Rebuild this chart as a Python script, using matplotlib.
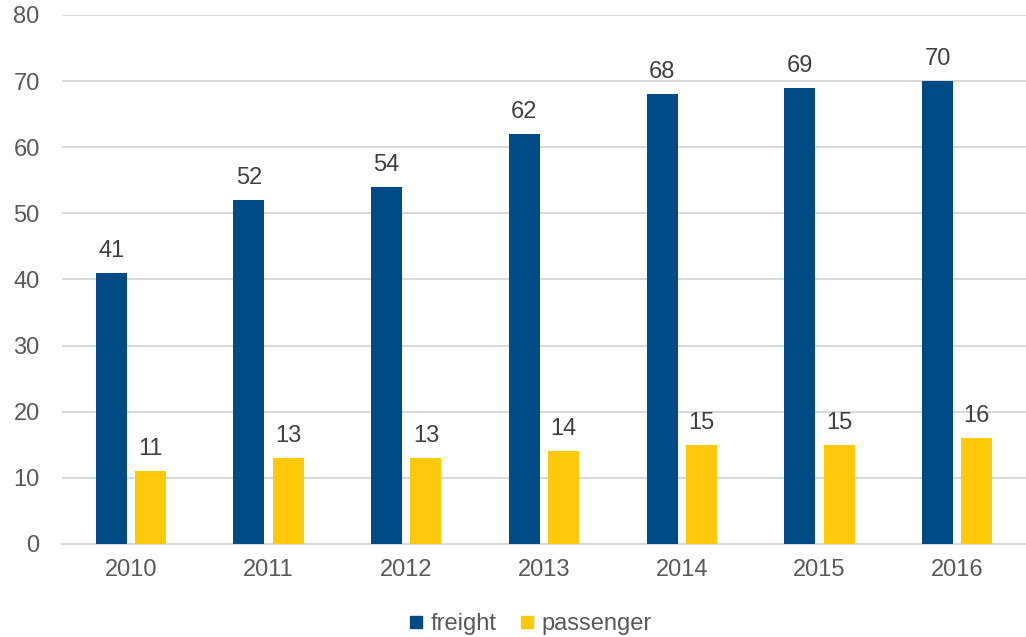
import matplotlib.pyplot as plt
import numpy as np
from matplotlib.lines import Line2D

plt.rcParams['font.family'] = ['Liberation Sans', 'DejaVu Sans']

years = ['2010', '2011', '2012', '2013', '2014', '2015', '2016']
freight = [41, 52, 54, 62, 68, 69, 70]
passenger = [11, 13, 13, 14, 15, 15, 16]

blue = '#004B85'
yellow = '#FFC90B'
grey_txt = '#595959'

fig = plt.figure(figsize=(10.26, 6.37), dpi=100)
ax = fig.add_axes([0.0604, 0.146, 0.9396, 0.8305])

x = np.arange(len(years))
w = 0.225
off = 0.143
b1 = ax.bar(x - off, freight, w, color=blue, zorder=3)
b2 = ax.bar(x + off, passenger, w, color=yellow, zorder=3)

for bars, vals in ((b1, freight), (b2, passenger)):
    for r, v in zip(bars, vals):
        ax.annotate(str(v), (r.get_x() + r.get_width() / 2, v),
                    xytext=(0, 8), textcoords='offset points',
                    ha='center', va='bottom', fontsize=17, color='#404040')

ax.set_xlim(-0.5, len(years) - 0.5)
ax.set_ylim(0, 80)
ax.set_yticks(range(0, 81, 10))
ax.set_xticks(x)
ax.set_xticklabels(years)
ax.yaxis.grid(True, color='#d9d9d9', linewidth=1.5, zorder=0)
ax.set_axisbelow(True)
for s in ['left', 'right', 'top']:
    ax.spines[s].set_visible(False)
ax.spines['bottom'].set_color('#d9d9d9')
ax.spines['bottom'].set_linewidth(1.5)
ax.tick_params(axis='y', length=0, pad=16, labelsize=17, labelcolor=grey_txt)
ax.tick_params(axis='x', length=0, pad=11, labelsize=17, labelcolor=grey_txt)

handles = [Line2D([], [], marker='s', linestyle='', color=blue, markersize=9),
           Line2D([], [], marker='s', linestyle='', color=yellow, markersize=9)]
fig.legend(handles, ['freight', 'passenger'], loc='center', bbox_to_anchor=(0.517, 0.02),
           ncol=2, frameon=False, fontsize=17, handlelength=0.6, handletextpad=0.3,
           columnspacing=1.0, labelcolor=grey_txt)

fig.savefig('out.png', dpi=100)
